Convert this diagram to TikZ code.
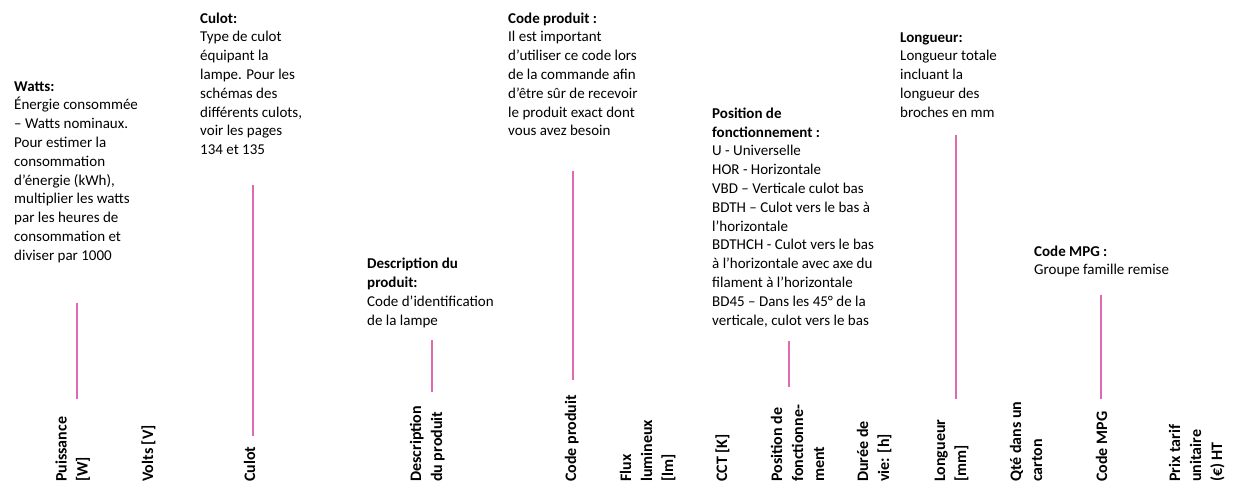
\documentclass[tikz,border=0pt]{standalone}
\usepackage{fontspec}
\setmainfont{Carlito}
\usetikzlibrary{positioning}
\definecolor{gepink}{RGB}{222,107,178}

\begin{document}
\begin{tikzpicture}[x=1pt, y=-1pt,
    info/.style={anchor=base west, align=left, inner sep=0pt, font=\fontsize{15}{18.8}\selectfont},
    colhead/.style={anchor=base west, align=left, inner sep=0pt, rotate=90, font=\fontsize{16}{21}\selectfont\bfseries},
    pinline/.style={draw=gepink, line width=1.6pt}
]
\useasboundingbox (0,0) rectangle (1240,488);

% explanations (placed by the baseline of their last line)
\node[info] (watts) at (14,260.2) {\textbf{Watts:}\\Énergie consommée\\– Watts nominaux.\\Pour estimer la\\consommation\\d’énergie (kWh),\\multiplier les watts\\par les heures de\\consommation et\\diviser par 1000};
\node[info] (culot) at (200,154.6) {\textbf{Culot:}\\Type de culot\\équipant la\\lampe. Pour les\\schémas des\\différents culots,\\voir les pages\\134 et 135};
\node[info] (descr) at (367,325) {\textbf{Description du}\\\textbf{produit:}\\Code d’identification\\de la lampe};
\node[info] (code) at (508,135.8) {\textbf{Code produit :}\\Il est important\\d’utiliser ce code lors\\de la commande afin\\d’être sûr de recevoir\\le produit exact dont\\vous avez besoin};
\node[info] (pos) at (712,325) {\textbf{Position de}\\\textbf{fonctionnement :}\\U - Universelle\\HOR - Horizontale\\VBD – Verticale culot bas\\BDTH – Culot vers le bas à\\l’horizontale\\BDTHCH - Culot vers le bas\\à l’horizontale avec axe du\\filament à l’horizontale\\BD45 – Dans les 45° de la\\verticale, culot vers le bas};
\node[info] (long) at (900,117.2) {\textbf{Longueur:}\\Longueur totale\\incluant la\\longueur des\\broches en mm};
\node[info] (mpg) at (1034,274.8) {\textbf{Code MPG :}\\Groupe famille remise};

% column headers (placed by the baseline of their last line)
\node[colhead] (hpuiss) at (87.7,482) {Puissance\\{[W]}};
\node[colhead] (hvolts) at (153,482) {Volts [V]};
\node[colhead] (hculot) at (255,482) {Culot};
\node[colhead] (hdescr) at (442,482) {Description\\du produit};
\node[colhead] (hcode) at (576,482) {Code produit};
\node[colhead] (hflux) at (673,482) {Flux\\lumineux\\{[lm]}};
\node[colhead] (hcct) at (727,482) {CCT [K]};
\node[colhead] (hpos) at (824,482) {Position de\\fonctionne-\\ment};
\node[colhead] (hvie) at (889,482) {Durée de\\vie: [h]};
\node[colhead] (hlong) at (966,482) {Longueur\\{[mm]}};
\node[colhead] (hqte) at (1042,482) {Qté dans un\\carton};
\node[colhead] (hmpg) at (1107,482) {Code MPG};
\node[colhead] (hprix) at (1222,482) {Prix tarif\\unitaire\\(€) HT};

% pink leaders
\coordinate (watts-a) at (77,303);   \coordinate (watts-b) at (77,399);
\coordinate (culot-a) at (253,185);  \coordinate (culot-b) at (253,436);
\coordinate (descr-a) at (432,340);  \coordinate (descr-b) at (432,392);
\coordinate (code-a) at (573,171);   \coordinate (code-b) at (573,380);
\coordinate (pos-a) at (789,341);    \coordinate (pos-b) at (789,387);
\coordinate (long-a) at (956,135);   \coordinate (long-b) at (956,399);
\coordinate (mpg-a) at (1101,295);   \coordinate (mpg-b) at (1101,399);

\draw[pinline] (watts-a) -- (watts-b);
\draw[pinline] (culot-a) -- (culot-b);
\draw[pinline] (descr-a) -- (descr-b);
\draw[pinline] (code-a) -- (code-b);
\draw[pinline] (pos-a) -- (pos-b);
\draw[pinline] (long-a) -- (long-b);
\draw[pinline] (mpg-a) -- (mpg-b);
\end{tikzpicture}
\end{document}
